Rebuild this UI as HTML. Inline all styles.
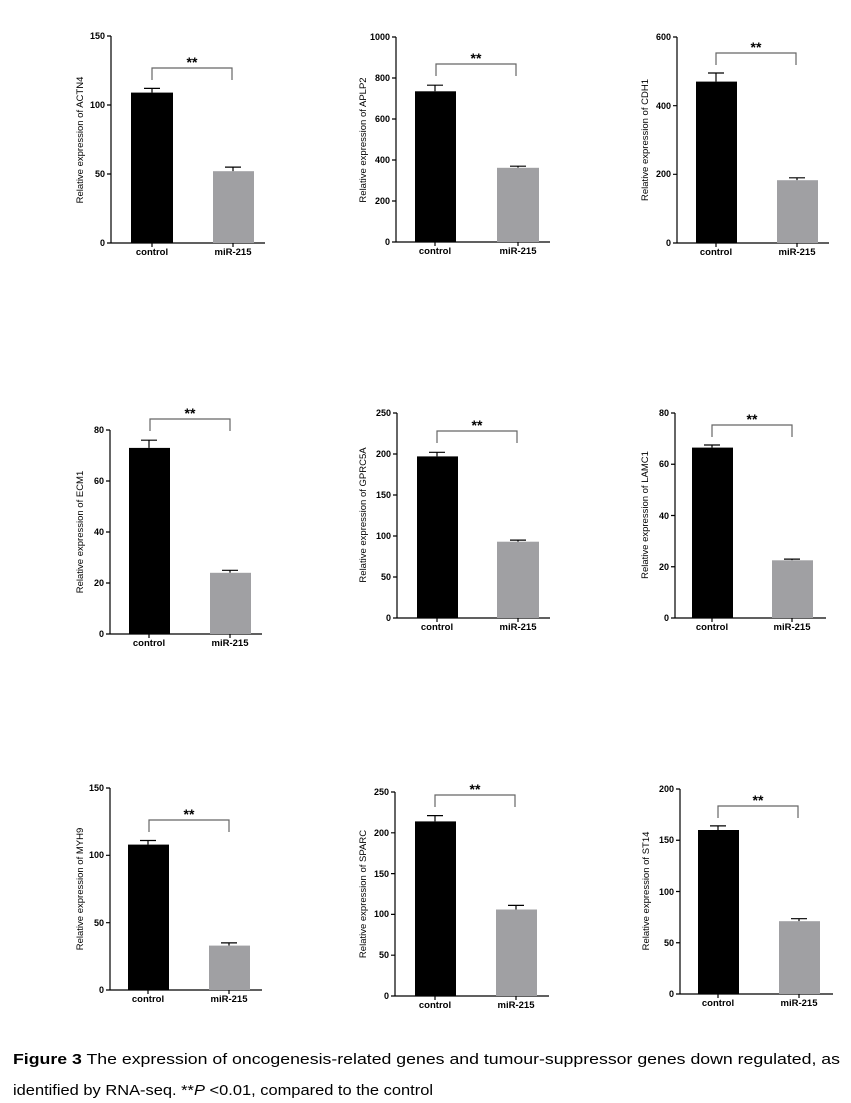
<!DOCTYPE html>
<html><head><meta charset="utf-8"><style>
html,body{margin:0;padding:0;background:#fff;}
svg{display:block;}
.t{font-family:"Liberation Sans",sans-serif;font-size:9px;font-weight:bold;fill:#000;}
.x{font-family:"Liberation Sans",sans-serif;font-size:9.5px;font-weight:bold;fill:#000;}
.y{font-family:"Liberation Sans",sans-serif;font-size:9.5px;fill:#000;}
.s{font-family:"Liberation Sans",sans-serif;font-size:14px;font-weight:bold;fill:#000;}
.c{font-family:"Liberation Sans",sans-serif;font-size:15px;fill:#000;}
</style></head><body>
<svg width="851" height="1103" viewBox="0 0 851 1103" xmlns="http://www.w3.org/2000/svg">
<g stroke="#000" stroke-width="1.2" fill="none">
<path d="M111 36V243H265M107 36H111M107 105H111M107 174H111M107 243H111M152 243V247M233 243V247"/>
<path d="M152 88.4V92.6M144 88.4H160M233 167.1V171.2M225 167.1H241"/>
<path d="M152 80V68H232V80" stroke="#666"/>
<path d="M396 37V242H550M392 37H396M392 78H396M392 119H396M392 160H396M392 201H396M392 242H396M435 242V246M518 242V246"/>
<path d="M435 85.2V91.3M427 85.2H443M518 166.2V167.8M510 166.2H526"/>
<path d="M436 76V64H516V76" stroke="#666"/>
<path d="M677 37V243H829M673 37H677M673 105.7H677M673 174.3H677M673 243H677M716 243V247M797 243V247"/>
<path d="M716 73V81.6M708 73H724M797 177.8V180.2M789 177.8H805"/>
<path d="M716 65V53H796V65" stroke="#666"/>
<path d="M110 430V634H262M106 430H110M106 481H110M106 532H110M106 583H110M106 634H110M149 634V638M230 634V638"/>
<path d="M149 440.2V447.9M141 440.2H157M230 570.3V572.8M222 570.3H238"/>
<path d="M150 431V419H230V431" stroke="#666"/>
<path d="M397 413V618H550M393 413H397M393 454H397M393 495H397M393 536H397M393 577H397M393 618H397M437 618V622M518 618V622"/>
<path d="M437 452.3V456.4M429 452.3H445M518 540.1V541.7M510 540.1H526"/>
<path d="M437 443V431H517V443" stroke="#666"/>
<path d="M675 413V618H826M671 413H675M671 464.25H675M671 515.5H675M671 566.75H675M671 618H675M712 618V622M792 618V622"/>
<path d="M712 445V447.6M704 445H720M792 559.1V560.3M784 559.1H800"/>
<path d="M712 437V425H792V437" stroke="#666"/>
<path d="M110 788V990H262M106 788H110M106 855.3H110M106 922.7H110M106 990H110M148 990V994M229 990V994"/>
<path d="M148 840.5V844.6M140 840.5H156M229 942.9V945.6M221 942.9H237"/>
<path d="M149 832V820H229V832" stroke="#666"/>
<path d="M395 792V996H549M391 792H395M391 832.8H395M391 873.6H395M391 914.4H395M391 955.2H395M391 996H395M435 996V1000M516 996V1000"/>
<path d="M435 815.6V821.4M427 815.6H443M516 905.4V909.5M508 905.4H524"/>
<path d="M435 807V795H515V807" stroke="#666"/>
<path d="M680 789V994H833M676 789H680M676 840.25H680M676 891.5H680M676 942.75H680M676 994H680M718 994V998M799 994V998"/>
<path d="M718 825.9V830M710 825.9H726M799 918.7V921.2M791 918.7H807"/>
<path d="M718 818V806H798V818" stroke="#666"/>
</g>
<g>
<rect x="131" y="92.6" width="42" height="150.4" fill="#000"/><rect x="213" y="171.2" width="41" height="71.8" fill="#a0a0a3"/>
<rect x="415" y="91.3" width="41" height="150.7" fill="#000"/><rect x="497" y="167.8" width="42" height="74.2" fill="#a0a0a3"/>
<rect x="696" y="81.6" width="41" height="161.4" fill="#000"/><rect x="777" y="180.2" width="41" height="62.8" fill="#a0a0a3"/>
<rect x="129" y="447.9" width="41" height="186.1" fill="#000"/><rect x="210" y="572.8" width="41" height="61.2" fill="#a0a0a3"/>
<rect x="417" y="456.4" width="41" height="161.6" fill="#000"/><rect x="497" y="541.7" width="42" height="76.3" fill="#a0a0a3"/>
<rect x="692" y="447.6" width="41" height="170.4" fill="#000"/><rect x="772" y="560.3" width="41" height="57.7" fill="#a0a0a3"/>
<rect x="128" y="844.6" width="41" height="145.4" fill="#000"/><rect x="209" y="945.6" width="41" height="44.4" fill="#a0a0a3"/>
<rect x="415" y="821.4" width="41" height="174.6" fill="#000"/><rect x="496" y="909.5" width="41" height="86.5" fill="#a0a0a3"/>
<rect x="698" y="830" width="41" height="164" fill="#000"/><rect x="779" y="921.2" width="41" height="72.8" fill="#a0a0a3"/>
</g>
<g class="t" text-anchor="end">
<text x="105" y="39">150</text><text x="105" y="108">100</text><text x="105" y="177">50</text><text x="105" y="246">0</text>
<text x="390" y="40">1000</text><text x="390" y="81">800</text><text x="390" y="122">600</text><text x="390" y="163">400</text><text x="390" y="204">200</text><text x="390" y="245">0</text>
<text x="671" y="40">600</text><text x="671" y="109">400</text><text x="671" y="177">200</text><text x="671" y="246">0</text>
<text x="104" y="433">80</text><text x="104" y="484">60</text><text x="104" y="535">40</text><text x="104" y="586">20</text><text x="104" y="637">0</text>
<text x="391" y="416">250</text><text x="391" y="457">200</text><text x="391" y="498">150</text><text x="391" y="539">100</text><text x="391" y="580">50</text><text x="391" y="621">0</text>
<text x="669" y="416">80</text><text x="669" y="467">60</text><text x="669" y="519">40</text><text x="669" y="570">20</text><text x="669" y="621">0</text>
<text x="104" y="791">150</text><text x="104" y="858">100</text><text x="104" y="926">50</text><text x="104" y="993">0</text>
<text x="389" y="795">250</text><text x="389" y="836">200</text><text x="389" y="877">150</text><text x="389" y="917">100</text><text x="389" y="958">50</text><text x="389" y="999">0</text>
<text x="674" y="792">200</text><text x="674" y="843">150</text><text x="674" y="895">100</text><text x="674" y="946">50</text><text x="674" y="997">0</text>
</g>
<g class="x" text-anchor="middle">
<text x="152" y="255">control</text><text x="233" y="255">miR-215</text>
<text x="435" y="254">control</text><text x="518" y="254">miR-215</text>
<text x="716" y="255">control</text><text x="797" y="255">miR-215</text>
<text x="149" y="646">control</text><text x="230" y="646">miR-215</text>
<text x="437" y="630">control</text><text x="518" y="630">miR-215</text>
<text x="712" y="630">control</text><text x="792" y="630">miR-215</text>
<text x="148" y="1002">control</text><text x="229" y="1002">miR-215</text>
<text x="435" y="1008">control</text><text x="516" y="1008">miR-215</text>
<text x="718" y="1006">control</text><text x="799" y="1006">miR-215</text>
</g>
<g class="y" text-anchor="middle">
<text transform="translate(83,140) rotate(-90)">Relative expression of ACTN4</text>
<text transform="translate(366,140) rotate(-90)">Relative expression of APLP2</text>
<text transform="translate(648,140) rotate(-90)">Relative expression of CDH1</text>
<text transform="translate(83,532) rotate(-90)">Relative expression of ECM1</text>
<text transform="translate(366,515) rotate(-90)">Relative expression of GPRC5A</text>
<text transform="translate(648,515) rotate(-90)">Relative expression of LAMC1</text>
<text transform="translate(83,889) rotate(-90)">Relative expression of MYH9</text>
<text transform="translate(366,894) rotate(-90)">Relative expression of SPARC</text>
<text transform="translate(649,891) rotate(-90)">Relative expression of ST14</text>
</g>
<g class="s" text-anchor="middle">
<text x="192" y="67">**</text><text x="476" y="63">**</text><text x="756" y="52">**</text>
<text x="190" y="418">**</text><text x="477" y="430">**</text><text x="752" y="424">**</text>
<text x="189" y="819">**</text><text x="475" y="794">**</text><text x="758" y="805">**</text>
</g>
<text class="c" x="13" y="1064" textLength="827" lengthAdjust="spacingAndGlyphs"><tspan font-weight="bold">Figure 3</tspan> The expression of oncogenesis-related genes and tumour-suppressor genes down regulated, as</text>
<text class="c" x="13" y="1095" textLength="420" lengthAdjust="spacingAndGlyphs">identified by RNA-seq. **<tspan font-style="italic">P</tspan> &lt;0.01, compared to the control</text>
</svg>
</body></html>
